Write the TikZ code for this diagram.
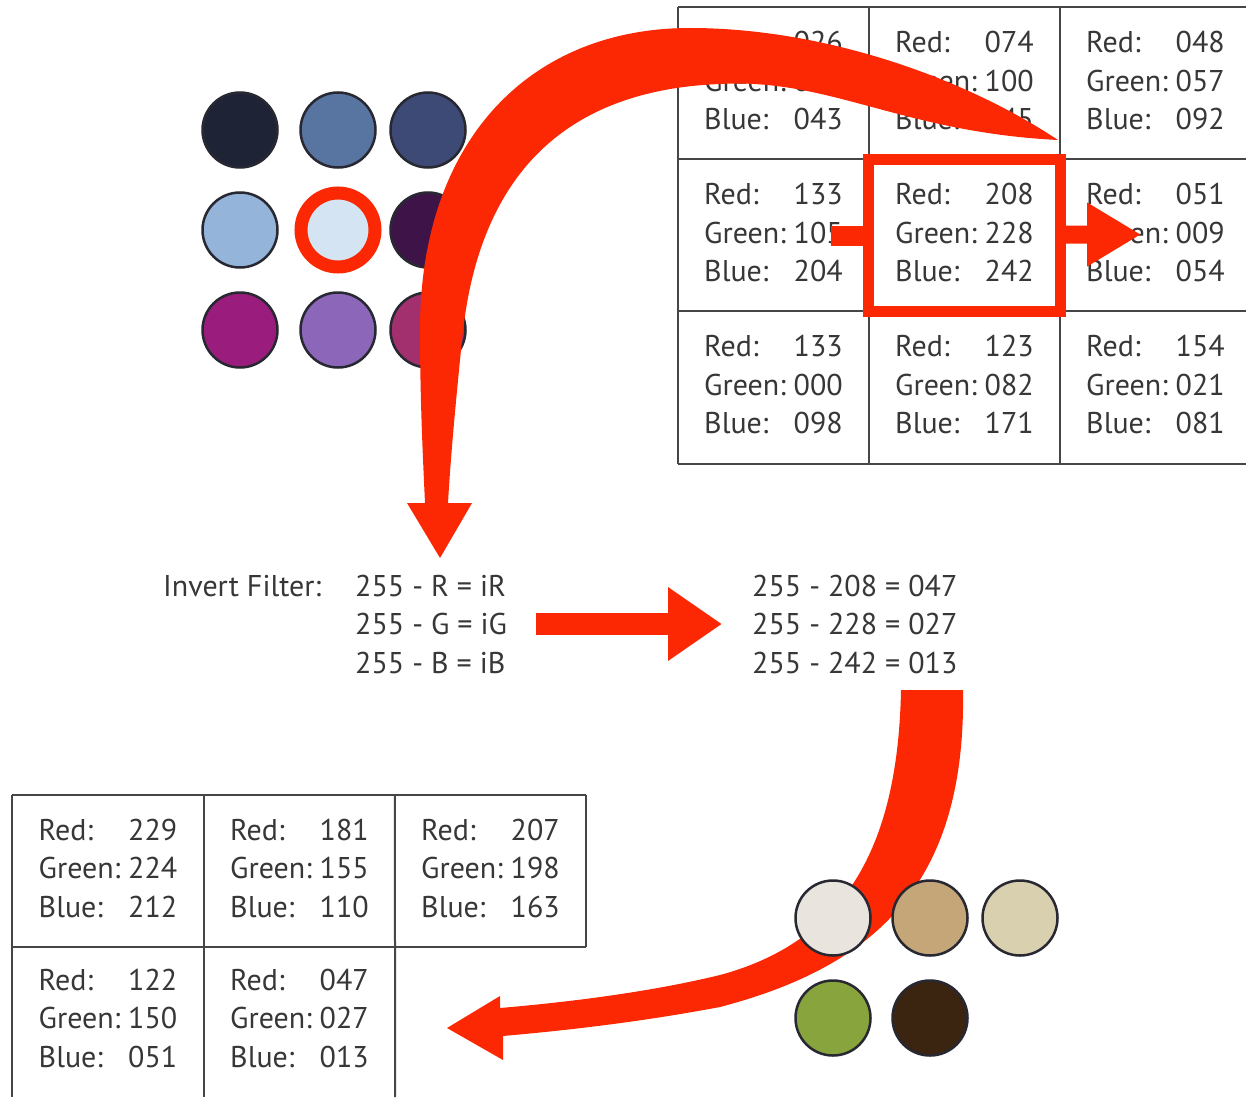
\documentclass[tikz,border=0pt]{standalone}
\usepackage{fontspec}
\setmainfont{PT Sans}
\usetikzlibrary{arrows.meta,calc}
\definecolor{arrowred}{RGB}{252,40,4}
\definecolor{txtgrey}{RGB}{55,55,55}
\definecolor{gridgrey}{RGB}{70,70,70}
\definecolor{ringdark}{RGB}{40,40,50}
% top circles
\definecolor{ca1}{RGB}{30,36,54}
\definecolor{ca2}{RGB}{88,116,160}
\definecolor{ca3}{RGB}{60,74,117}
\definecolor{ca4}{RGB}{148,180,218}
\definecolor{ca5}{RGB}{212,228,242}
\definecolor{ca6}{RGB}{62,20,72}
\definecolor{ca7}{RGB}{154,28,124}
\definecolor{ca8}{RGB}{140,102,184}
\definecolor{ca9}{RGB}{163,48,110}
% bottom circles
\definecolor{cb1}{RGB}{233,228,222}
\definecolor{cb2}{RGB}{196,166,121}
\definecolor{cb3}{RGB}{217,208,176}
\definecolor{cb4}{RGB}{136,165,61}
\definecolor{cb5}{RGB}{59,36,16}
\newcommand\cellfont{\fontsize{30}{38.5}\selectfont}
\newcommand\rgbtab[3]{\begin{tabular}{@{}l@{\hspace{0.26em}}r@{}}Red: & #1\\Green: & #2\\Blue: & #3\end{tabular}}
\begin{document}
\begin{tikzpicture}[x=1pt,y=-1pt,
  cell/.style={minimum width=191pt, minimum height=152pt, inner sep=0pt, font=\cellfont, text=txtgrey},
  grid/.style={draw=gridgrey, line width=2pt},
  txt/.style={inner sep=0pt, font=\cellfont, text=txtgrey},
  dot/.style={circle, inner sep=0pt, minimum size=75pt, draw=ringdark, line width=2.5pt},
  ring/.style={circle, inner sep=0pt, minimum size=74pt, draw=arrowred, line width=13pt},
  bigarrow/.style={draw=arrowred, line width=22pt, -{Triangle[length=54pt,width=70pt]}}
]
\useasboundingbox (0,0) rectangle (1246,1097);
\clip (0,0) rectangle (1246,1097);
\fill[white] (0,0) rectangle (1246,1097);

% ---------- top-right table ----------
\node[cell] (t11) at (773.5,83.5)  {\rgbtab{026}{031}{043}};
\node[cell] (t12) at (964.5,83.5)  {\rgbtab{074}{100}{145}};
\node[cell] (t13) at (1155.5,83.5) {\rgbtab{048}{057}{092}};
\node[cell] (t21) at (773.5,235.5)  {\rgbtab{133}{105}{204}};
\node[cell] (t22) at (964.5,235.5)  {\rgbtab{208}{228}{242}};
\node[cell] (t23) at (1155.5,235.5) {\rgbtab{051}{009}{054}};
\node[cell] (t31) at (773.5,387.5)  {\rgbtab{133}{000}{098}};
\node[cell] (t32) at (964.5,387.5)  {\rgbtab{123}{082}{171}};
\node[cell] (t33) at (1155.5,387.5) {\rgbtab{154}{021}{081}};
\draw[grid] (t11.north west) -- (t13.north east);
\draw[grid] (t21.north west) -- (t23.north east);
\draw[grid] (t31.north west) -- (t33.north east);
\draw[grid] (t31.south west) -- (t33.south east);
\draw[grid] (t11.north west) -- (t31.south west);
\draw[grid] (t12.north west) -- (t32.south west);
\draw[grid] (t13.north west) -- (t33.south west);

% ---------- bottom-left table ----------
\node[cell] (b11) at (108,871)   {\rgbtab{229}{224}{212}};
\node[cell] (b12) at (299.5,871) {\rgbtab{181}{155}{110}};
\node[cell] (b13) at (490.5,871) {\rgbtab{207}{198}{163}};
\node[cell] (b21) at (108,1021)   {\rgbtab{122}{150}{051}};
\node[cell] (b22) at (299.5,1021) {\rgbtab{047}{027}{013}};
\draw[grid] (b11.north west) -- (b13.north east);
\draw[grid] (b11.south west) -- (b13.south east);
\draw[grid] (b13.north east) -- (b13.south east);
\draw[grid] (b11.north west) -- (b21.south west);
\draw[grid] (b12.north west) -- (b22.south west);
\draw[grid] (b13.north west) -- (b22.south east);

% ---------- top-left circles ----------
\node[dot, fill=ca1] (p1) at (240,130) {};
\node[dot, fill=ca2] (p2) at (338,130) {};
\node[dot, fill=ca3] (p3) at (428,130) {};
\node[dot, fill=ca4] (p4) at (240,230) {};
\node[ring, fill=ca5] (p5) at (338,230) {};
\node[dot, fill=ca6] (p6) at (428,230) {};
\node[dot, fill=ca7] (p7) at (240,330) {};
\node[dot, fill=ca8] (p8) at (338,330) {};
\node[dot, fill=ca9] (p9) at (428,330) {};

% ---------- big curved arrow: table -> formula ----------
\coordinate (tailT) at (1058,140);
\coordinate (tipT) at (440,558);
\fill[arrowred] (tailT) .. controls (960,75) and (820,28) .. (690,28)
  .. controls (530,28) and (420,140) .. (420,330)
  .. controls (420,400) and (423,460) .. (425,503)
  -- (407,503) -- (tipT) -- (472,503) -- (448,503)
  .. controls (451,450) and (457,390) .. (462,340)
  .. controls (478,175) and (565,90) .. (720,84)
  .. controls (830,78) and (900,132) .. (tailT) -- cycle;

% ---------- highlight box and small arrows ----------
\draw[arrowred, line width=11pt] (t22.north west) rectangle (t22.south east);
\fill[arrowred] ($(t22.west)+(-38,-10)$) rectangle ($(t22.west)+(0,10)$);
\fill[arrowred] ($(t22.east)+(0,-10)$) -- ++(27,0) -- ++(0,-23) -- ++(53,32) -- ++(-53,32) -- ++(0,-23) -- ++(-27,0) -- cycle;

% ---------- formulas ----------
\node[txt, anchor=base west] (lab) at (163,596) {Invert Filter:};
\node[txt, anchor=base west] (f1) at (355,596) {255 - R = iR};
\node[txt, anchor=base west] (f2) at (355,634.5) {255 - G = iG};
\node[txt, anchor=base west] (f3) at (355,673) {255 - B = iB};
\node[txt, anchor=base west] (r1) at (752,596) {255 - 208 = 047};
\node[txt, anchor=base west] (r2) at (752,634.5) {255 - 228 = 027};
\node[txt, anchor=base west] (r3) at (752,673) {255 - 242 = 013};
\draw[bigarrow] ([xshift=29pt]f2.east) -- ([xshift=-30pt]r2.west);

% ---------- bottom curved arrow: result -> table ----------
\coordinate (tipB) at (447,1028);
\fill[arrowred] (963,690) .. controls (966,880) and (880,965) .. (720,1007)
  .. controls (640,1022) and (570,1030) .. (503,1036)
  -- (503,1060) -- (tipB) -- (500,996) -- (500,1008)
  .. controls (570,1002) and (650,992) .. (720,975)
  .. controls (850,940) and (898,840) .. (901,690) -- cycle;

% ---------- bottom circles ----------
\node[dot, fill=cb1] (q1) at (833,918) {};
\node[dot, fill=cb2] (q2) at (930,918) {};
\node[dot, fill=cb3] (q3) at (1020,918) {};
\node[dot, fill=cb4] (q4) at (833,1018) {};
\node[dot, fill=cb5] (q5) at (930,1018) {};
\end{tikzpicture}
\end{document}
